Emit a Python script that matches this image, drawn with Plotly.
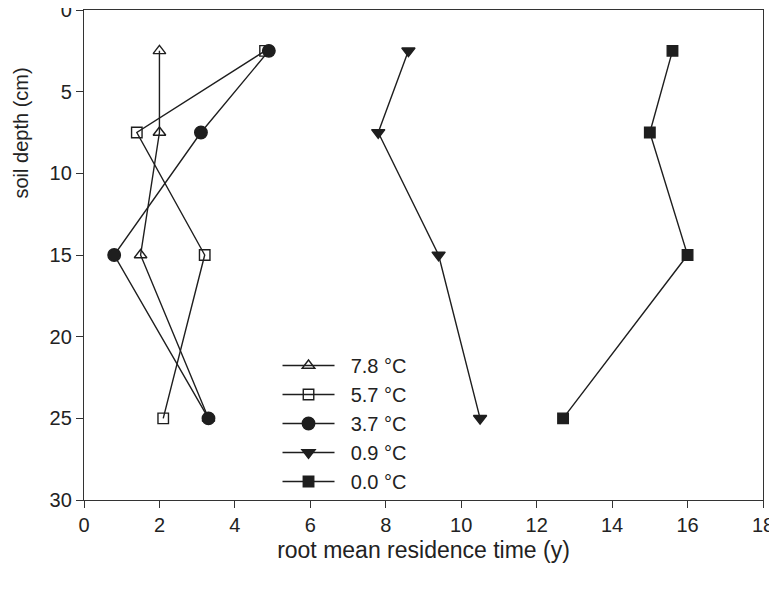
import plotly.graph_objects as go

depth = [2.5, 7.5, 15, 25]
labels = ["7.8 °C", "5.7 °C", "3.7 °C", "0.9 °C", "0.0 °C"]
t78 = [2.0, 2.0, 1.5, 3.3]
t57 = [4.8, 1.4, 3.2, 2.1]
t37 = [4.9, 3.1, 0.8, 3.3]
t09 = [8.6, 7.8, 9.4, 10.5]
t00 = [15.6, 15.0, 16.0, 12.7]
series = [t78, t57, t37, t09, t00]
symbols = ["triangle-up-open", "square-open", "circle", "triangle-down", "square"]
sizes = [11, 10.5, 12.5, 11.5, 10.5]

x_ticks = list(range(0, 19, 2))
y_ticks = list(range(0, 31, 5))

ink = "#1e1e1e"
fig = go.Figure()
for lab, vals, sym, sz in zip(labels, series, symbols, sizes):
    fig.add_trace(go.Scatter(
        x=vals, y=depth, mode="lines+markers", name="\u00a0\u00a0" + lab,
        line=dict(color=ink, width=1.4),
        marker=dict(symbol=sym, size=sz, color=ink, line=dict(color=ink, width=1.4)),
    ))

font = "Arial, Liberation Sans, sans-serif"
fig.add_annotation(text="soil depth (cm)", xref="paper", yref="paper",
                   x=-0.0935, y=0.749, textangle=-90, showarrow=False,
                   xanchor="center", yanchor="middle", borderpad=0,
                   font=dict(size=20, family=font, color="#222"))
fig.update_layout(
    width=769, height=582,
    margin=dict(l=76, r=14, t=2, b=90, autoexpand=False),
    paper_bgcolor="white", plot_bgcolor="white",
    font=dict(family=font, color="#222"),
    showlegend=True,
    legend=dict(x=0.285, y=-0.002, xanchor="left", yanchor="bottom",
                font=dict(size=20, family=font, color="#222"),
                itemwidth=52, tracegroupgap=0, bgcolor="rgba(0,0,0,0)"),
    xaxis=dict(range=[0, 18], tickvals=x_ticks, ticks="outside", ticklen=7,
               tickcolor="#333", showline=True, linecolor="#333", linewidth=1.3,
               mirror=True, showgrid=False, zeroline=False, automargin=False,
               ticklabeloverflow="allow", tickfont=dict(size=20),
               title=dict(text="root mean residence time (y)", font=dict(size=23), standoff=6)),
    yaxis=dict(range=[30, 0], tickvals=y_ticks, ticks="outside", ticklen=7,
               tickcolor="#333", showline=True, linecolor="#333", linewidth=1.3,
               mirror=True, showgrid=False, zeroline=False, automargin=False,
               ticklabeloverflow="allow", tickfont=dict(size=20)),
)
fig.write_html("out.html")
